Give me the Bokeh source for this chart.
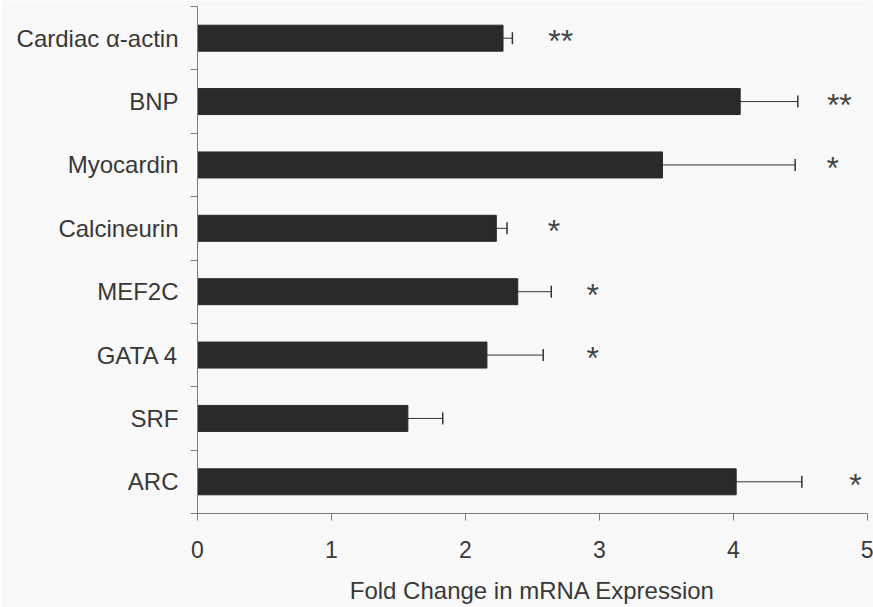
from bokeh.plotting import figure
from bokeh.models import ColumnDataSource, Range1d, FixedTicker, Whisker, TeeHead
from bokeh.core.properties import value
from bokeh.embed import file_html
from bokeh.resources import INLINE

# ---- data ----
genes = ["Cardiac α-actin", "BNP", "Myocardin", "Calcineurin", "MEF2C", "GATA 4", "SRF", "ARC"]
fold_change = [2.28, 4.05, 3.47, 2.23, 2.39, 2.16, 1.57, 4.02]
error = [0.07, 0.43, 0.99, 0.08, 0.25, 0.42, 0.26, 0.49]
significance = ["**", "**", "*", "*", "*", "*", "", "*"]
significance_x = [2.71, 4.79, 4.74, 2.66, 2.95, 2.95, 0.0, 4.91]
x_ticks = [0, 1, 2, 3, 4, 5]

n = len(genes)
ypos = [n - 1 - i for i in range(n)]
src = ColumnDataSource(dict(
    y=ypos, fold=fold_change,
    hi=[f + e for f, e in zip(fold_change, error)],
))
sig_src = ColumnDataSource(dict(
    y=[ypos[i] for i in range(n) if significance[i]],
    x=[significance_x[i] for i in range(n) if significance[i]],
    t=[s for s in significance if s],
))

BG = "#f9f9f9"
TXT = "#383838"
AX = "#7a7a7a"
FONT = "Liberation Sans"

p = figure(width=873, height=607, output_backend="svg", toolbar_location=None,
           x_range=Range1d(0, 5), y_range=Range1d(-0.5, n - 0.5),
           min_border_left=197, min_border_right=6, min_border_top=6, min_border_bottom=94)
p.background_fill_color = BG
p.border_fill_color = BG
p.outline_line_color = None
p.grid.visible = False

p.hbar(y="y", left=0, right="fold", height=0.41, source=src,
       fill_color="#2a2a2a", line_color="#2a2a2a")

w = Whisker(source=src, base="y", lower="fold", upper="hi", dimension="width",
            line_color="#333333", line_width=1,
            upper_head=TeeHead(size=12, line_color="#333333", line_width=1.5),
            lower_head=None)
p.add_layout(w)

p.text(x="x", y="y", text="t", source=sig_src, text_align="center",
       text_baseline="middle", text_font_size="32px", text_color="#444444",
       text_font=value(FONT), y_offset=3)

# x axis
xa = p.xaxis[0]
xa.ticker = FixedTicker(ticks=x_ticks)
xa.axis_label = "Fold Change in mRNA Expression"
xa.axis_label_text_font = FONT
xa.axis_label_text_font_size = "24px"
xa.axis_label_text_font_style = "normal"
xa.axis_label_text_color = TXT
xa.axis_label_standoff = 16
xa.major_label_text_font = FONT
xa.major_label_text_font_size = "23px"
xa.major_label_text_color = TXT
xa.major_label_standoff = 20
xa.axis_line_color = AX
xa.major_tick_line_color = AX
xa.major_tick_out = 7
xa.major_tick_in = 0
xa.minor_tick_line_color = None

# y axis: labels at centres, ticks at boundaries
ya = p.yaxis[0]
ya.ticker = FixedTicker(ticks=ypos, minor_ticks=[k - 0.5 for k in range(n + 1)])
ya.major_label_overrides = {ypos[i]: genes[i] for i in range(n)}
ya.major_label_text_font = FONT
ya.major_label_text_font_size = "24px"
ya.major_label_text_color = TXT
ya.major_label_standoff = 12
ya.major_tick_line_color = None
ya.minor_tick_line_color = AX
ya.minor_tick_out = 7
ya.minor_tick_in = 0
ya.axis_line_color = AX

open("out.html", "w").write(file_html(p, INLINE))
